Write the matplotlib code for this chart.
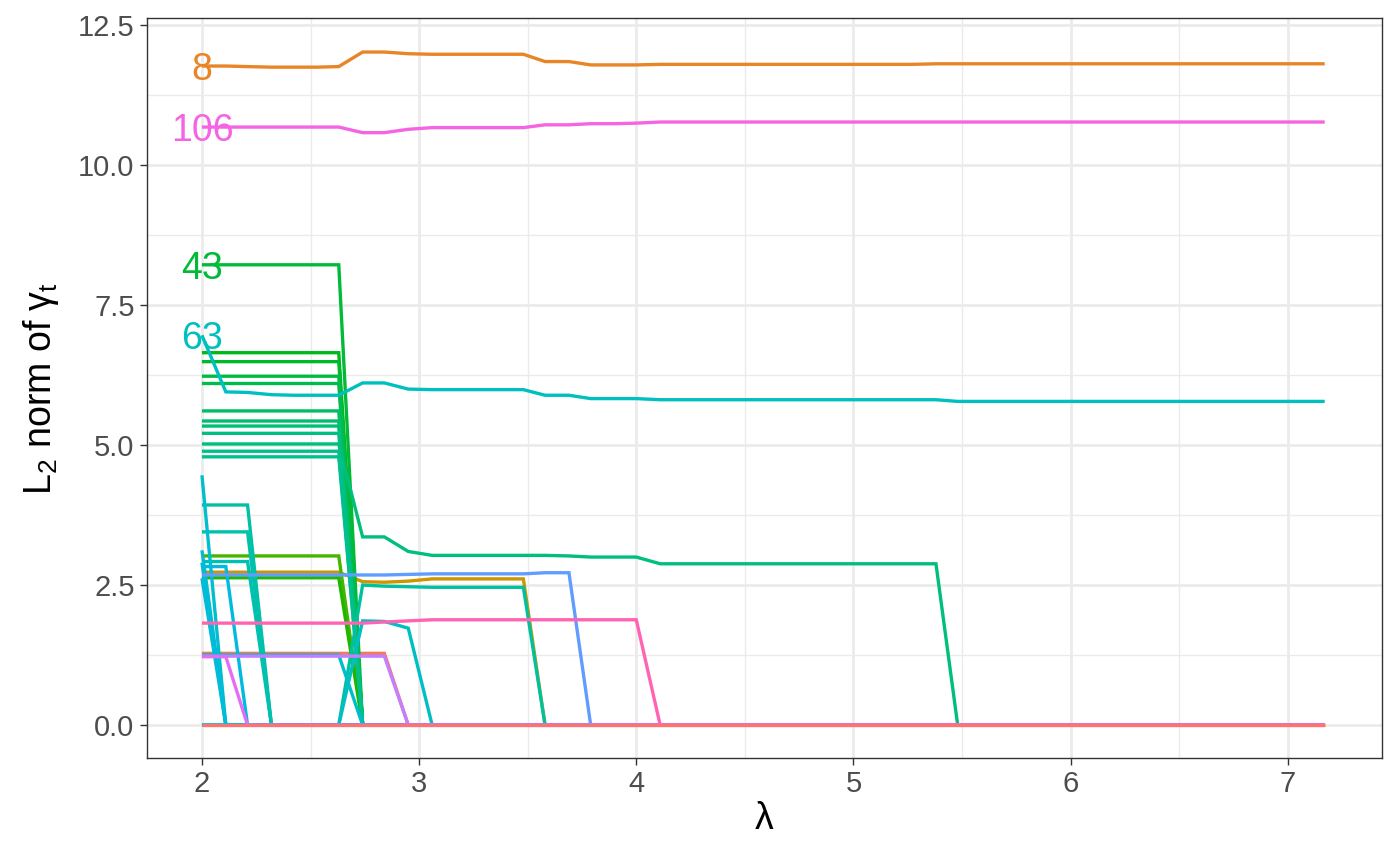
import numpy as np
import matplotlib
matplotlib.use("Agg")
import matplotlib.pyplot as plt
from matplotlib.ticker import MultipleLocator

plt.rcParams['font.family'] = ['Liberation Sans', 'DejaVu Sans']
plt.rcParams['mathtext.default'] = 'regular'

# lambda grid (50 steps)
lam = [2.00, 2.11, 2.21, 2.32, 2.42, 2.53, 2.63, 2.74, 2.84, 2.95,
       3.06, 3.16, 3.27, 3.37, 3.48, 3.58, 3.69, 3.79, 3.90, 4.00,
       4.11, 4.22, 4.32, 4.43, 4.53, 4.64, 4.74, 4.85, 4.95, 5.06,
       5.17, 5.27, 5.38, 5.48, 5.59, 5.69, 5.80, 5.90, 6.01, 6.11,
       6.22, 6.33, 6.43, 6.54, 6.64, 6.75, 6.85, 6.96, 7.06, 7.17]

n_groups = 126

# group id -> path values (trailing values after the list are zero)
paths = {
    4:   [1.28] * 9,
    8:   [11.77, 11.77, 11.76, 11.75, 11.75, 11.75, 11.76,
          12.02, 12.02, 11.99, 11.98, 11.98, 11.98, 11.98, 11.98,
          11.85, 11.85, 11.79, 11.79, 11.79] + [11.80] * 12 + [11.81] * 18,
    17:  [2.73] * 7 + [2.56, 2.55, 2.57] + [2.61] * 5,
    38:  [3.02] * 7,
    40:  [2.63] * 7,
    41:  [6.65] * 7,
    42:  [6.49] * 7,
    43:  [8.22] * 7,
    44:  [6.23] * 7,
    45:  [6.10] * 7,
    48:  [5.61] * 7,
    49:  [5.43] * 7,
    50:  [5.34] * 7,
    51:  [5.02] * 7 + [3.36, 3.36, 3.10, 3.03, 3.03, 3.03, 3.03, 3.03,
                       3.03, 3.02, 3.00, 3.00, 3.00] + [2.88] * 13,
    52:  [5.21] * 7,
    53:  [4.89] * 7,
    54:  [4.79] * 7,
    57:  [0.0] * 7 + [2.50, 2.48, 2.47] + [2.46] * 5,
    58:  [3.93] * 3,
    59:  [3.45] * 3,
    60:  [2.92] * 3,
    63:  [6.96, 5.95, 5.94, 5.90, 5.89, 5.89, 5.89,
          6.11, 6.11, 6.00, 5.99, 5.99, 5.99, 5.99, 5.99,
          5.89, 5.89, 5.83, 5.83, 5.83] + [5.81] * 13 + [5.78] * 17,
    64:  [0.0] * 7 + [1.86, 1.85, 1.73],
    65:  [1.25] * 7,
    66:  [4.46],
    67:  [3.12],
    68:  [2.90],
    69:  [2.62],
    70:  [2.83, 2.83],
    85:  [2.68] * 9 + [2.69] + [2.70] * 5 + [2.72, 2.72],
    95:  [1.23] * 9,
    101: [1.22, 1.22],
    106: [10.68] * 7 + [10.58, 10.58, 10.64, 10.67, 10.67, 10.67, 10.67,
                        10.67, 10.72, 10.72, 10.74, 10.74, 10.75] + [10.77] * 30,
    116: [1.82] * 8 + [1.84, 1.86] + [1.88] * 10,
    126: [0.0],
}
labelled = [8, 106, 43, 63]


def hue_color(h, c=100.0, l=65.0):
    # polar LUV -> sRGB, like ggplot's hue_pal
    h = np.deg2rad(h)
    U, V = c * np.cos(h), c * np.sin(h)
    Xn, Yn, Zn = 95.047, 100.0, 108.883
    Y = Yn * ((l + 16) / 116) ** 3
    t = Xn + 15 * Yn + 3 * Zn
    u = U / (13 * l) + 4 * Xn / t
    v = V / (13 * l) + 9 * Yn / t
    X = Y * 9 * u / (4 * v)
    Z = Y * (12 - 3 * u - 20 * v) / (4 * v)
    M = np.array([[3.2404542, -1.5371385, -0.4985314],
                  [-0.9692660, 1.8760108, 0.0415560],
                  [0.0556434, -0.2040259, 1.0572252]])
    rgb = M @ (np.array([X, Y, Z]) / 100)
    rgb = np.where(rgb <= 0.0031308, 12.92 * rgb,
                   1.055 * np.clip(rgb, 0, None) ** (1 / 2.4) - 0.055)
    return tuple(np.clip(rgb, 0, 1))


def group_color(g):
    return hue_color(15 + 360 * (g - 1) / n_groups)


fig = plt.figure(figsize=(14, 8.65), dpi=100)
ax = fig.add_axes([0.105, 0.1237, 0.882, 0.8553])

x = np.array(lam)
for g in sorted(paths):
    vals = np.zeros(len(lam))
    vals[:len(paths[g])] = paths[g]
    ax.plot(x, vals, color=group_color(g), lw=2.4, solid_capstyle='butt',
            solid_joinstyle='miter', zorder=3)

for g in labelled:
    ax.text(lam[0], paths[g][0], str(g), color=group_color(g), fontsize=27,
            ha='center', va='center_baseline', zorder=4)

ax.set_xlim(1.747, 7.433)
ax.set_ylim(-0.589, 12.625)
ax.xaxis.set_major_locator(MultipleLocator(1))
ax.xaxis.set_minor_locator(MultipleLocator(0.5))
ax.yaxis.set_major_locator(MultipleLocator(2.5))
ax.yaxis.set_minor_locator(MultipleLocator(1.25))
ax.yaxis.set_major_formatter(matplotlib.ticker.FormatStrFormatter('%.1f'))

ax.grid(which='major', color='#EBEBEB', lw=2.0, zorder=0)
ax.grid(which='minor', color='#EBEBEB', lw=1.0, zorder=0)
ax.set_axisbelow(True)
for s in ax.spines.values():
    s.set_color('#333333')
    s.set_linewidth(1.0)

ax.tick_params(which='major', length=5, width=1.0, color='#333333',
               labelsize=21, labelcolor='#4D4D4D', pad=4)
ax.tick_params(which='minor', length=0)

ax.set_xlabel('λ', fontsize=27, labelpad=2)
ax.set_ylabel('L$_2$ norm of γ$_t$', fontsize=27, labelpad=12)

fig.savefig('out.png', dpi=100)
